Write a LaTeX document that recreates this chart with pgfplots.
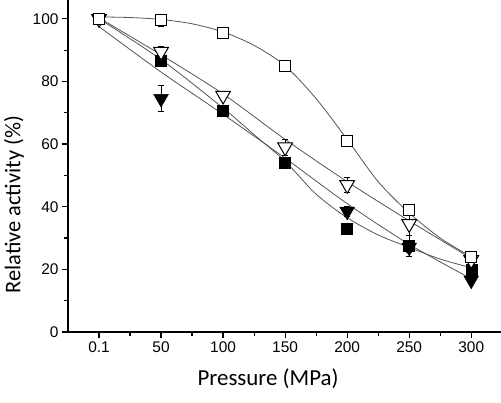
\documentclass[border=0pt]{standalone}
\usepackage{pgfplots}
\pgfplotsset{compat=1.18}
\usepackage{fontspec}
\setmainfont{Liberation Sans}
\newfontfamily\labelfont{Carlito}
\usetikzlibrary{calc}

\definecolor{fitgray}{HTML}{555555}

\begin{document}
\begin{tikzpicture}
\begin{axis}[
  scale only axis,
  width=433bp, height=332bp,
  xmin=-25, xmax=324, ymin=0, ymax=106,
  axis lines*=left,
  axis line style={line width=1.4bp},
  tick align=outside,
  tick style={black, line width=1.2bp},
  major tick length=6bp,
  minor tick length=3.5bp,
  xtick={0,50,...,300},
  xticklabels={0.1,50,100,150,200,250,300},
  minor x tick num=1,
  ytick={0,20,...,100},
  minor y tick num=1,
  tick label style={font=\fontsize{15.5}{16}\selectfont},
  /pgf/number format/assume math mode=true,
  xlabel={\labelfont\fontsize{23}{25}\selectfont Pressure (MPa)},
  xlabel style={at={(axis description cs:0.462,-0.1416)}, anchor=center},
  ylabel={\labelfont\fontsize{22.5}{24}\selectfont Relative activity (\%)},
  ylabel style={at={(axis description cs:-0.1247,0.383)}, anchor=center},
  clip=false,
]
\coordinate (O) at (rel axis cs:0,0);
\coordinate (T) at (rel axis cs:1,1);

% fitted curves
\addplot[fitgray, line width=0.8bp, smooth] coordinates {
  (0,100.6) (25,100.4) (50,99.8) (75,98.4) (100,95.8) (125,91.5) (150,85)
  (175,74.5) (200,61.5) (225,48) (250,38) (275,30) (300,24)};
\addplot[fitgray, line width=0.8bp, smooth] coordinates {
  (0,100.3) (50,88.5) (100,76) (150,61.5) (200,48) (250,35.5) (300,23.5)};
\addplot[fitgray, line width=0.8bp, smooth] coordinates {
  (0,100) (50,87) (100,71.5) (125,63) (150,54.5) (175,44) (200,36.5)
  (225,31) (250,27) (275,23.3) (300,20.5)};
\addplot[fitgray, line width=0.8bp, smooth] coordinates {
  (0,97.5) (50,83) (100,69.5) (150,55.5) (200,41) (250,28) (300,17)};

% filled down-triangles
\addplot[only marks, black, mark=triangle*, mark size=8.5bp,
  mark options={rotate=180, fill=black},
  error bars/.cd, y dir=both, y explicit,
  error bar style={line width=0.7bp, black},
  error mark options={rotate=90, mark size=3bp, line width=0.7bp}]
  coordinates {
  (0,100) +- (0,0.5)
  (50,74.5) +- (0,4.2)
  (200,38.5) +- (0,1.5)
  (250,27) +- (0,1.5)
  (300,16.5) +- (0,1)};

% filled squares
\addplot[only marks, black, mark=square*, mark size=5.5bp,
  mark options={fill=black},
  error bars/.cd, y dir=both, y explicit,
  error bar style={line width=0.7bp, black},
  error mark options={rotate=90, mark size=3bp, line width=0.7bp}]
  coordinates {
  (0,100) +- (0,0.5)
  (50,86.5) +- (0,1)
  (100,70.5) +- (0,1)
  (150,54) +- (0,1)
  (200,33) +- (0,1)
  (250,27.5) +- (0,3.5)
  (300,20) +- (0,1)};

% open down-triangles
\addplot[only marks, black, mark=triangle*, mark size=8.5bp,
  mark options={rotate=180, fill=white, line width=1bp},
  error bars/.cd, y dir=both, y explicit,
  error bar style={line width=0.7bp, black},
  error mark options={rotate=90, mark size=3bp, line width=0.7bp}]
  coordinates {
  (0,100) +- (0,0.5)
  (50,89.5) +- (0,1.8)
  (100,75.5) +- (0,1.2)
  (150,59) +- (0,2.5)
  (200,47) +- (0,2.5)
  (250,34.5) +- (0,3.5)
  (300,23) +- (0,1)};

% open squares
\addplot[only marks, black, mark=square*, mark size=5.5bp,
  mark options={fill=white, line width=1bp},
  error bars/.cd, y dir=both, y explicit,
  error bar style={line width=0.7bp, black},
  error mark options={rotate=90, mark size=3bp, line width=0.7bp}]
  coordinates {
  (0,100) +- (0,0.5)
  (50,99.5) +- (0,1.8)
  (100,95.5) +- (0,1)
  (150,85) +- (0,1.5)
  (200,61) +- (0,1)
  (250,39) +- (0,1.5)
  (300,24) +- (0,1)};
\end{axis}
\pgfresetboundingbox
\path[use as bounding box] ($(O)+(-68bp,-71bp)$) rectangle (T);
\end{tikzpicture}
\end{document}
